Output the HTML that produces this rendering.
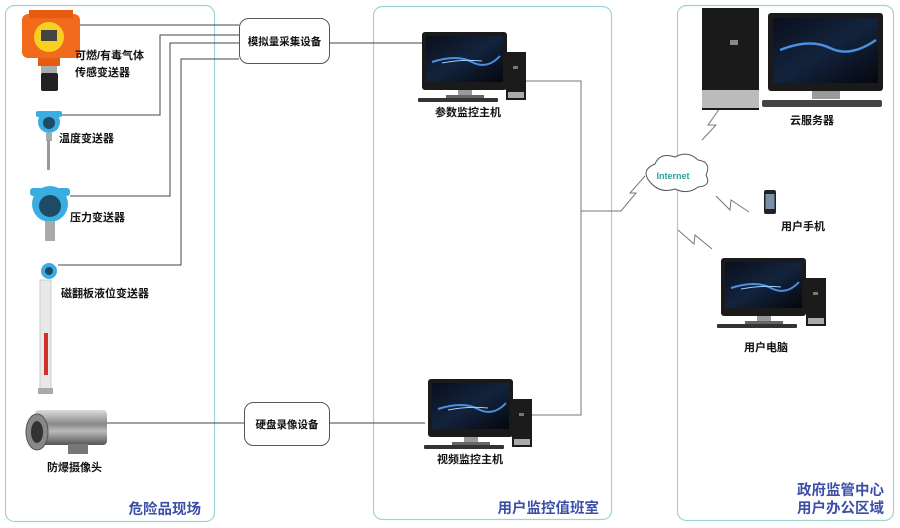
<!DOCTYPE html>
<html><head><meta charset="utf-8"><style>
html,body{margin:0;padding:0;background:#fff;}
svg{display:block;}
text{font-family:"Liberation Sans","Noto Sans CJK SC",sans-serif;font-weight:bold;fill:#111;}
.l{font-size:11px;}
.big{font-size:14.5px;fill:#3b4fa6;}
.w{fill:none;stroke:#444;stroke-width:1;}
.g{fill:none;stroke:#777;stroke-width:1;}
</style></head><body>
<svg width="900" height="528" viewBox="0 0 900 528" xmlns="http://www.w3.org/2000/svg">
<defs>
<linearGradient id="scr" x1="0" y1="0" x2="1" y2="1"><stop offset="0" stop-color="#0a0f1c"/><stop offset="0.5" stop-color="#13233d"/><stop offset="1" stop-color="#05070c"/></linearGradient>
<linearGradient id="steel" x1="0" y1="0" x2="0" y2="1"><stop offset="0" stop-color="#ddd"/><stop offset="0.4" stop-color="#888"/><stop offset="0.6" stop-color="#bbb"/><stop offset="1" stop-color="#555"/></linearGradient>
<g id="mon">
<rect x="0" y="0" width="85" height="58" rx="3" fill="#1a1a1a"/>
<rect x="4" y="4" width="77" height="46" fill="url(#scr)"/>
<path d="M10 30 Q35 22 50 30 T78 24" stroke="#4a8fe0" stroke-width="2" fill="none"/>
<path d="M20 31 Q40 27 60 29" stroke="#9cd0ff" stroke-width="1" fill="none"/>
<rect x="36" y="58" width="14" height="6" fill="#999"/>
<rect x="24" y="63" width="38" height="4" fill="#666"/>
<rect x="-4" y="66" width="80" height="4" rx="1" fill="#333"/>
</g>
<g id="tow">
<rect x="0" y="0" width="20" height="48" fill="#1b1b1b"/>
<rect x="2" y="40" width="16" height="6" fill="#aaa"/>
<rect x="7" y="14" width="5" height="3" fill="#777"/>
</g>
</defs>

<rect x="5.5" y="5.5" width="209" height="516" rx="9" fill="none" stroke="#9fd3d3" stroke-width="1.2"/>
<rect x="373.5" y="6.5" width="238" height="513" rx="9" fill="none" stroke="#9fd3d3" stroke-width="1.2"/>
<rect x="677.5" y="5.5" width="216" height="515" rx="9" fill="none" stroke="#9fd3d3" stroke-width="1.2"/>

<path class="w" d="M80 25 H239"/>
<path class="w" d="M62 115 H160 V35 H239"/>
<path class="w" d="M70 196 H170 V43 H239"/>
<path class="w" d="M58 265 H181 V59 H239"/>
<path class="w" d="M329 43 H422"/>
<path class="w" d="M105 423 H244"/>
<path class="w" d="M329 423 H425"/>
<path class="g" d="M525 81 H581 V415 H532"/>
<path class="g" d="M581 211 H621 L636 193 L630 193 L645 176"/>
<path class="g" d="M702 140 L716 125 L708 125 L720 108"/>
<path class="g" d="M716 196 L730 210 L731 200 L749 212"/>
<path class="g" d="M678 230 L694 244 L695 235 L712 249"/>

<rect x="239.5" y="18.5" width="90" height="45" rx="9" fill="#fff" stroke="#555"/>
<text class="l" x="284.5" y="45" text-anchor="middle" style="font-size:10.5px">模拟量采集设备</text>
<rect x="244.5" y="402.5" width="85" height="43" rx="9" fill="#fff" stroke="#555"/>
<text class="l" x="287" y="428" text-anchor="middle" style="font-size:10.5px">硬盘录像设备</text>

<rect x="22" y="14" width="58" height="44" rx="6" fill="#f26b1d"/>
<rect x="29" y="10" width="44" height="8" fill="#e85a10"/>
<circle cx="49" cy="37" r="15" fill="#f7d020"/>
<rect x="41" y="30" width="16" height="11" fill="#444"/>
<rect x="38" y="58" width="22" height="8" fill="#e85a10"/>
<rect x="41" y="66" width="16" height="8" fill="#aaa"/>
<rect x="41" y="73" width="17" height="18" rx="2" fill="#222"/>
<text class="l" x="75" y="59">可燃/有毒气体</text>
<text class="l" x="75" y="76">传感变送器</text>

<circle cx="49" cy="122" r="11" fill="#3aaee0"/>
<rect x="36" y="111" width="26" height="6" rx="2" fill="#3aaee0"/>
<circle cx="49" cy="123" r="6" fill="#1f4a66"/>
<rect x="46" y="133" width="6" height="8" fill="#aaa"/>
<rect x="47" y="140" width="3" height="30" fill="#999"/>
<text class="l" x="59" y="142">温度变送器</text>

<circle cx="50" cy="204" r="18" fill="#3aaee0"/>
<rect x="30" y="188" width="40" height="8" rx="3" fill="#3aaee0"/>
<circle cx="50" cy="206" r="11" fill="#1f4a66"/>
<rect x="45" y="221" width="10" height="20" fill="#aaa"/>
<text class="l" x="70" y="221">压力变送器</text>

<circle cx="49" cy="271" r="8" fill="#3aaee0"/>
<circle cx="49" cy="271" r="4" fill="#1f4a66"/>
<rect x="40" y="280" width="11" height="110" fill="#e8e8e8" stroke="#ccc"/>
<rect x="44" y="333" width="4" height="42" fill="#d0322a"/>
<rect x="38" y="388" width="15" height="6" fill="#aaa"/>
<text class="l" x="61" y="297">磁翻板液位变送器</text>

<rect x="35" y="410" width="72" height="35" rx="4" fill="url(#steel)"/>
<ellipse cx="37" cy="432" rx="11" ry="18" fill="#888" stroke="#555"/>
<ellipse cx="37" cy="432" rx="6" ry="11" fill="#333"/>
<rect x="68" y="444" width="20" height="10" fill="#777"/>
<text class="l" x="47" y="471">防爆摄像头</text>

<use href="#mon" x="422" y="32"/>
<use href="#tow" x="506" y="52"/>
<text class="l" x="468" y="116" text-anchor="middle">参数监控主机</text>
<use href="#mon" x="428" y="379"/>
<use href="#tow" x="512" y="399"/>
<text class="l" x="470" y="463" text-anchor="middle">视频监控主机</text>

<path d="M650 182 Q640 170 655 164 Q660 152 675 157 Q688 150 698 160 Q712 162 706 175 Q712 186 698 187 Q688 195 675 189 Q660 194 650 182 Z" fill="#fff" stroke="#555"/>
<text x="673" y="179" text-anchor="middle" style="font-size:9px;fill:#2aa39a">Internet</text>

<rect x="702" y="8" width="57" height="102" fill="#1a1a1a"/>
<rect x="702" y="90" width="57" height="18" fill="#bbb"/>
<rect x="730" y="40" width="8" height="5" fill="#888"/>
<rect x="768" y="13" width="115" height="78" rx="3" fill="#1a1a1a"/>
<rect x="773" y="18" width="105" height="65" fill="url(#scr)"/>
<path d="M780 50 Q810 38 830 48 T876 40" stroke="#4a8fe0" stroke-width="2.5" fill="none"/>
<rect x="812" y="91" width="28" height="8" fill="#999"/>
<rect x="762" y="100" width="120" height="7" rx="2" fill="#444"/>
<text class="l" x="812" y="124" text-anchor="middle">云服务器</text>

<rect x="764" y="190" width="12" height="24" rx="2" fill="#222"/>
<rect x="765.5" y="194" width="9" height="15" fill="#7a8fa8"/>
<text class="l" x="803" y="230" text-anchor="middle">用户手机</text>

<use href="#mon" x="721" y="258"/>
<use href="#tow" x="806" y="278"/>
<text class="l" x="766" y="351" text-anchor="middle">用户电脑</text>

<text class="big" x="201" y="514" text-anchor="end">危险品现场</text>
<text class="big" x="599" y="513" text-anchor="end">用户监控值班室</text>
<text class="big" x="884" y="495" text-anchor="end">政府监管中心</text>
<text class="big" x="884" y="513" text-anchor="end">用户办公区域</text>
</svg>
</body></html>
